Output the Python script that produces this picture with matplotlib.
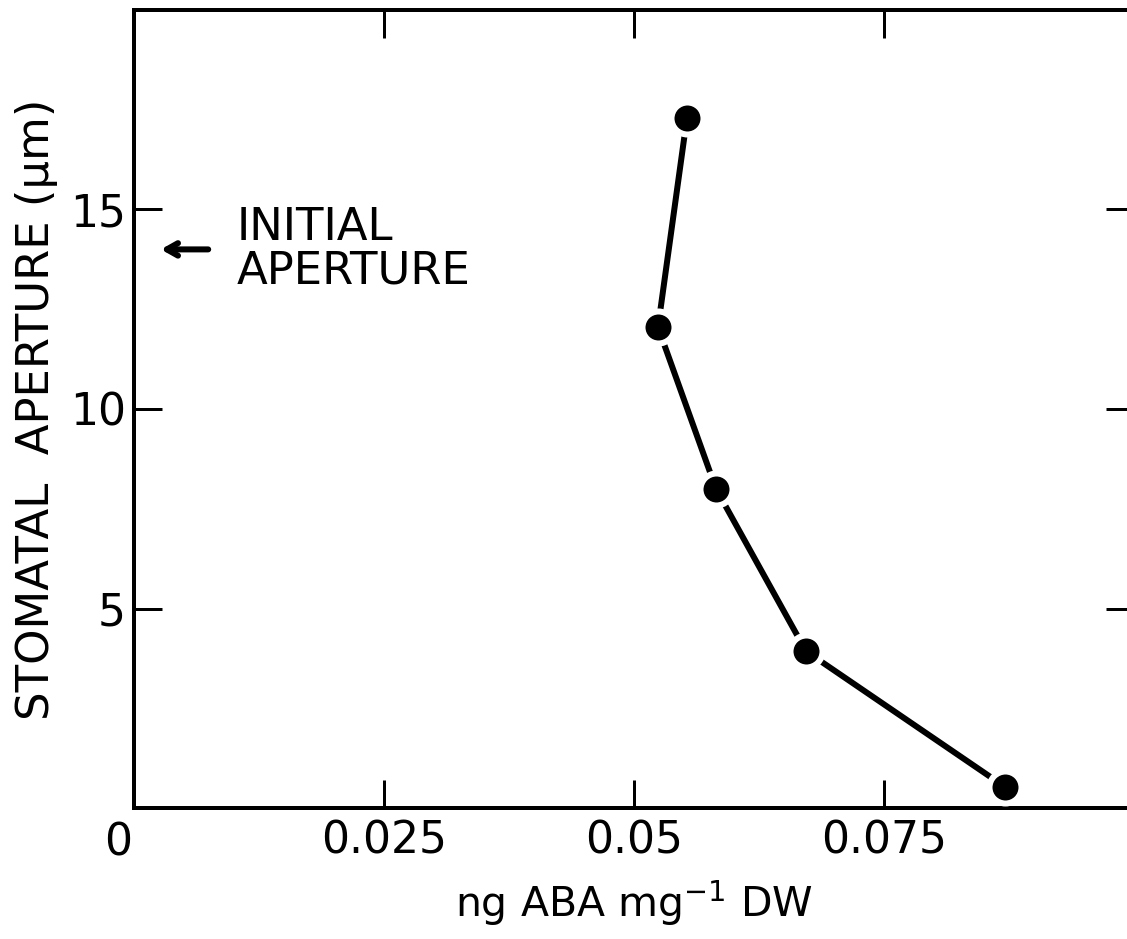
import matplotlib
matplotlib.use("Agg")
import matplotlib.pyplot as plt

# ABA content vs. stomatal aperture
aba_ng_per_mg = [0.0553, 0.0524, 0.0582, 0.0672, 0.0871]
aperture_um = [17.3, 12.05, 8.0, 3.93, 0.53]
initial_aperture = 14.0

x_ticks = [0, 0.025, 0.05, 0.075]
x_tick_labels = ["", "0.025", "0.05", "0.075"]
y_ticks = [5, 10, 15]
y_tick_labels = ["5", "10", "15"]

DPI = 100
px = 72.0 / DPI  # points per pixel

plt.rcParams["font.family"] = ["DejaVu Sans"]

fig = plt.figure(figsize=(11.27, 9.39), dpi=DPI)
ax = fig.add_axes([134 / 1127, (939 - 808) / 939, 1000 / 1127, 798 / 939])
ax.set_xlim(0, 0.1)
ax.set_ylim(0, 20)

for s in ax.spines.values():
    s.set_linewidth(4 * px)
ax.spines["right"].set_visible(False)

# Line with white-ringed markers leaving a gap at each point
ax.plot(aba_ng_per_mg, aperture_um, color="black", lw=6 * px,
        marker="o", markersize=32 * px, markerfacecolor="black",
        markeredgecolor="white", markeredgewidth=6 * px,
        solid_capstyle="butt", clip_on=False, zorder=3)

ax.set_xticks(x_ticks)
ax.set_xticklabels(x_tick_labels)
ax.set_yticks(y_ticks)
ax.set_yticklabels(y_tick_labels)
ax.tick_params(axis="both", which="major", direction="in", length=28 * px,
               width=3 * px, labelsize=44 * px, top=True, right=True)
ax.tick_params(axis="x", pad=12 * px)
ax.tick_params(axis="y", pad=8 * px)

# Shared origin label
ax.text(-0.0016, -0.35, "0", transform=ax.transData, ha="center", va="top",
        fontsize=44 * px)

ax.set_xlabel("ng ABA mg$^{-1}$ DW", fontsize=41 * px, labelpad=16 * px)
ax.set_ylabel("STOMATAL  APERTURE (\u03bcm)", fontsize=45 * px, labelpad=12 * px)

ax.annotate("", xy=(0.0024, initial_aperture), xytext=(0.0077, initial_aperture),
            arrowprops=dict(arrowstyle="->,head_length=0.8,head_width=0.45",
                            lw=6 * px, color="black"))
ax.text(0.0103, initial_aperture, "INITIAL\nAPERTURE", ha="left", va="center",
        fontsize=45 * px, linespacing=1.0)

fig.savefig("out.png", dpi=DPI)
